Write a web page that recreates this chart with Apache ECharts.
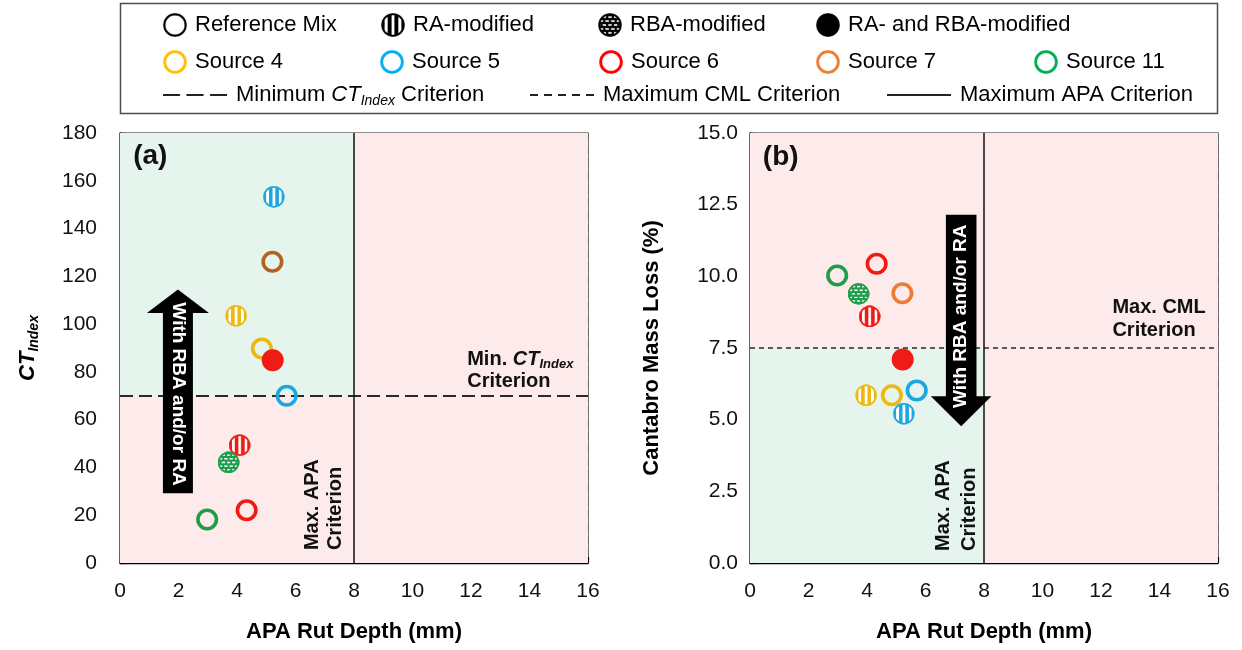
<!DOCTYPE html>
<html>
<head>
<meta charset="utf-8">
<script src="https://cdn.jsdelivr.net/npm/echarts@6/dist/echarts.min.js"></script>
<style>
  html, body { margin: 0; padding: 0; background: #fff; }
  #chart { width: 1242px; height: 650px; }
</style>
</head>
<body>
<div id="chart"></div>
<script>
// ---- data ---------------------------------------------------------------
const sourceNames = ['Source 4', 'Source 5', 'Source 6', 'Source 7', 'Source 11'];
const mixNames = ['Reference Mix', 'RA-modified', 'RBA-modified', 'RA- and RBA-modified'];

// one entry per mixture
const pointSource = ['Source 4', 'Source 4', 'Source 5', 'Source 5', 'Source 6', 'Source 6', 'Source 6', 'Source 7', 'Source 11', 'Source 11'];
const pointMix = ['Reference Mix', 'RA-modified', 'Reference Mix', 'RA-modified', 'Reference Mix', 'RA-modified', 'RA- and RBA-modified', 'Reference Mix', 'Reference Mix', 'RBA-modified'];
const apaRutDepth = [4.85, 3.97, 5.70, 5.26, 4.33, 4.09, 5.22, 5.21, 2.98, 3.71];   // mm
const ctIndex = [89.8, 103.5, 70.0, 153.3, 22.1, 49.3, 84.9, 126.1, 18.2, 42.1];
const cantabroLoss = [5.85, 5.85, 6.02, 5.21, 10.44, 8.60, 7.10, 9.41, 10.03, 9.39]; // %

// performance criteria
const minCtIndex = 70;
const maxCml = 7.5;
const maxApaRut = 8;

// axis ranges
const rutAxis = { min: 0, max: 16, interval: 2 };
const ctAxis = { min: 0, max: 180, interval: 20 };
const cmlAxis = { min: 0, max: 15, interval: 2.5 };

// ---- styling ------------------------------------------------------------
const FONT = '"Liberation Sans", Arial, Helvetica, sans-serif';
const colorsA = { 'Source 4': '#EDB90E', 'Source 5': '#19A8DF', 'Source 6': '#F01B15', 'Source 7': '#B3631F', 'Source 11': '#1E9D4B' };
const colorsB = { 'Source 4': '#EDB90E', 'Source 5': '#19A8DF', 'Source 6': '#F01B15', 'Source 7': '#EC7C35', 'Source 11': '#1E9D4B' };
const legendColors = { 'Source 4': '#FFC000', 'Source 5': '#00B0F0', 'Source 6': '#FF0000', 'Source 7': '#ED7D31', 'Source 11': '#00B050' };
const GREEN_ZONE = '#E5F4EC';
const RED_ZONE = '#FDEBEB';

// Builds a small bitmap marker (ring / striped / dotted / solid disc).
function markerImage(kind, color, size, ring) {
  const k = 3;
  const cv = document.createElement('canvas');
  cv.width = cv.height = size * k;
  const g = cv.getContext('2d');
  g.scale(k, k);
  const r = size / 2;
  const u = size / 22;
  g.beginPath();
  if (kind === 'ring') {
    g.arc(r, r, r - ring / 2 - 0.2, 0, Math.PI * 2);
    g.lineWidth = ring;
    g.strokeStyle = color;
    g.stroke();
  } else {
    g.arc(r, r, r - 0.2, 0, Math.PI * 2);
    g.fillStyle = color;
    g.fill();
    if (kind === 'stripe' || kind === 'dots') {
      g.save();
      g.beginPath();
      g.arc(r, r, r - 2 * u, 0, Math.PI * 2);
      g.clip();
      g.fillStyle = '#fff';
      if (kind === 'stripe') {
        [-6.3, 0, 6.3].forEach(o => g.fillRect(r + (o - 1.35) * u, 0, 2.7 * u, size));
      } else {
        for (let row = -3; row <= 3; row++) {
          const y = r + row * 3.6 * u;
          const shift = (row % 2 === 0) ? 0 : 2.6 * u;
          for (let col = -3; col <= 3; col++) {
            const x = r + col * 5.2 * u + shift;
            g.fillRect(x - 1.6 * u, y - 0.7 * u, 3.2 * u, 1.4 * u);
          }
        }
      }
      g.restore();
    }
  }
  return 'image://' + cv.toDataURL();
}

// Legend swatch for a criterion line.
function lineImage(dash, w, h) {
  const k = 3;
  const cv = document.createElement('canvas');
  cv.width = w * k; cv.height = h * k;
  const g = cv.getContext('2d');
  g.scale(k, k);
  g.strokeStyle = '#222';
  g.lineWidth = 2;
  g.setLineDash(dash);
  g.beginPath();
  g.moveTo(0, h / 2);
  g.lineTo(w, h / 2);
  g.stroke();
  return 'image://' + cv.toDataURL();
}

function markerFor(mix, color) {
  if (mix === 'Reference Mix') {
    return { symbol: 'circle', symbolSize: 18.5, itemStyle: { color: 'rgba(0,0,0,0)', borderColor: color, borderWidth: 3.6, opacity: 1 } };
  }
  if (mix === 'RA-modified') return { symbol: markerImage('stripe', color, 22), symbolSize: 22, itemStyle: { opacity: 1 } };
  if (mix === 'RBA-modified') return { symbol: markerImage('dots', color, 22), symbolSize: 22, itemStyle: { opacity: 1 } };
  return { symbol: 'circle', symbolSize: 22, itemStyle: { color: color, borderWidth: 0, opacity: 1 } };
}

function pointsFor(source, yValues, colors) {
  const out = [];
  for (let i = 0; i < pointSource.length; i++) {
    if (pointSource[i] !== source) continue;
    out.push(Object.assign({ value: [apaRutDepth[i], yValues[i]] }, markerFor(pointMix[i], colors[source])));
  }
  return out;
}

// ---- axes ---------------------------------------------------------------
const tickFont = { fontSize: 21, color: '#111', fontFamily: FONT };
const splitStyle = { show: true, lineStyle: { color: 'rgba(0,0,0,0.14)', width: 1, type: [8, 5] } };
function rutXAxis(gridIndex) {
  return {
    gridIndex, type: 'value', min: rutAxis.min, max: rutAxis.max, interval: rutAxis.interval,
    name: 'APA Rut Depth (mm)', nameLocation: 'middle', nameGap: 58,
    nameTextStyle: { fontSize: 22, fontWeight: 'bold', color: '#000', fontFamily: FONT },
    axisLine: { show: true, onZero: false, lineStyle: { color: '#000', width: 1.3 } },
    axisTick: { show: true, inside: true, length: 6, lineStyle: { color: '#000', width: 1.2 } },
    axisLabel: Object.assign({ margin: 18 }, tickFont),
    splitLine: splitStyle
  };
}

// ---- series -------------------------------------------------------------
const series = [];

// shaded acceptance zones (below the grid lines)
series.push({
  type: 'scatter', xAxisIndex: 0, yAxisIndex: 0, data: [], silent: true, z: -1,
  markArea: {
    silent: true, label: { show: false },
    data: [
      [{ coord: [0, minCtIndex], itemStyle: { color: GREEN_ZONE } }, { coord: [maxApaRut, ctAxis.max] }],
      [{ coord: [0, 0], itemStyle: { color: RED_ZONE } }, { coord: [maxApaRut, minCtIndex] }],
      [{ coord: [maxApaRut, 0], itemStyle: { color: RED_ZONE } }, { coord: [rutAxis.max, ctAxis.max] }]
    ]
  }
});
series.push({
  type: 'scatter', xAxisIndex: 1, yAxisIndex: 1, data: [], silent: true, z: -1,
  markArea: {
    silent: true, label: { show: false },
    data: [
      [{ coord: [0, 0], itemStyle: { color: GREEN_ZONE } }, { coord: [maxApaRut, maxCml] }],
      [{ coord: [0, maxCml], itemStyle: { color: RED_ZONE } }, { coord: [maxApaRut, cmlAxis.max] }],
      [{ coord: [maxApaRut, 0], itemStyle: { color: RED_ZONE } }, { coord: [rutAxis.max, cmlAxis.max] }]
    ]
  }
});

// criterion lines
series.push({
  type: 'scatter', xAxisIndex: 0, yAxisIndex: 0, data: [], silent: true,
  markLine: {
    silent: true, symbol: ['none', 'none'], label: { show: false },
    data: [
      { yAxis: minCtIndex, lineStyle: { color: '#2a2a2a', width: 2, type: [13, 6] } },
      { xAxis: maxApaRut, lineStyle: { color: '#111', width: 1.5, type: 'solid' } }
    ]
  }
});
series.push({
  type: 'scatter', xAxisIndex: 1, yAxisIndex: 1, data: [], silent: true,
  markLine: {
    silent: true, symbol: ['none', 'none'], label: { show: false },
    data: [
      { yAxis: maxCml, lineStyle: { color: '#2a2a2a', width: 1.5, type: [5, 4] } },
      { xAxis: maxApaRut, lineStyle: { color: '#111', width: 1.5, type: 'solid' } }
    ]
  }
});

// legend-only entries for the mixture types and criterion lines
mixNames.forEach(name => series.push({ type: 'scatter', name, xAxisIndex: 0, yAxisIndex: 0, data: [], itemStyle: { opacity: 1 } }));
const criterionNames = ['Minimum CTIndex Criterion', 'Maximum CML Criterion', 'Maximum APA Criterion'];
const criterionDash = [[17, 6.5], [8, 6], []];
criterionNames.forEach(name => series.push({ type: 'line', name, xAxisIndex: 0, yAxisIndex: 0, data: [], symbol: 'none', itemStyle: { opacity: 1 } }));

// measured mixtures
sourceNames.forEach(src => {
  series.push({ type: 'scatter', name: src, xAxisIndex: 0, yAxisIndex: 0, z: 5, itemStyle: { opacity: 1 }, data: pointsFor(src, ctIndex, colorsA), emphasis: { disabled: true } });
  series.push({ type: 'scatter', name: src, xAxisIndex: 1, yAxisIndex: 1, z: 5, itemStyle: { opacity: 1 }, data: pointsFor(src, cantabroLoss, colorsB), emphasis: { disabled: true } });
});

// ---- legend -------------------------------------------------------------
const legendText = { fontSize: 22, color: '#000', fontFamily: FONT };
const subRich = {
  n: { fontSize: 22, color: '#000', fontFamily: FONT, lineHeight: 26 },
  i: { fontSize: 22, color: '#000', fontFamily: FONT, fontStyle: 'italic', lineHeight: 26 },
  s: { fontSize: 14, color: '#000', fontFamily: FONT, fontStyle: 'italic', lineHeight: 8, verticalAlign: 'bottom' }
};
const mixIcons = {
  'Reference Mix': markerImage('ring', '#000', 24, 2.2),
  'RA-modified': markerImage('stripe', '#000', 24),
  'RBA-modified': markerImage('dots', '#000', 24),
  'RA- and RBA-modified': markerImage('solid', '#000', 24)
};
const mixIconX = [175, 393, 610, 828];
const sourceIconX = [175, 392, 611, 828, 1046];
const legends = [];
function markerLegend(name, icon, cx, top) {
  legends.push({
    left: cx - 15, top, padding: 0, itemWidth: 30, itemHeight: 24, selectedMode: false,
    itemStyle: { opacity: 1 },
    textStyle: legendText, data: [{ name, icon }]
  });
}
mixNames.forEach((n, i) => markerLegend(n, mixIcons[n], mixIconX[i], 13));
sourceNames.forEach((n, i) => markerLegend(n, markerImage('ring', legendColors[n], 24, 3), sourceIconX[i], 50));

const criterionLeft = [163, 530, 887];
criterionNames.forEach((name, i) => legends.push({
  left: criterionLeft[i], top: 84, padding: 0, itemWidth: 64, itemHeight: 14, itemGap: 0, selectedMode: false,
  itemStyle: { opacity: 1 },
  textStyle: { fontSize: 22, color: '#000', fontFamily: FONT, rich: subRich, padding: [0, 0, 0, 4] },
  formatter: n => n === 'Minimum CTIndex Criterion'
    ? '{n|Minimum }{i|CT}{s|Index}{n| Criterion}'
    : '{n|' + n + '}',
  data: [{ name, icon: lineImage(criterionDash[i], 64, 14) }]
}));

// ---- option -------------------------------------------------------------
const option = {
  animation: false,
  backgroundColor: '#fff',
  legend: legends,
  grid: [
    { left: 120, top: 133, width: 468, height: 430, show: true, borderColor: '#222', borderWidth: 1.2, backgroundColor: 'rgba(0,0,0,0)' },
    { left: 750, top: 133, width: 468, height: 430, show: true, borderColor: '#222', borderWidth: 1.2, backgroundColor: 'rgba(0,0,0,0)' }
  ],
  xAxis: [rutXAxis(0), rutXAxis(1)],
  yAxis: [
    {
      gridIndex: 0, type: 'value', min: ctAxis.min, max: ctAxis.max, interval: ctAxis.interval,
      name: '{c|CT}{s|Index}', nameLocation: 'middle', nameGap: 79, nameRotate: 90,
      nameTextStyle: {
        rich: {
          c: { fontSize: 22, fontWeight: 'bold', fontStyle: 'italic', color: '#000', fontFamily: FONT, lineHeight: 26 },
          s: { fontSize: 14, fontWeight: 'bold', fontStyle: 'italic', color: '#000', fontFamily: FONT, lineHeight: 8, verticalAlign: 'bottom' }
        }
      },
      axisLine: { show: true, onZero: false, lineStyle: { color: '#000', width: 1.3 } },
      axisTick: { show: true, inside: true, length: 6, lineStyle: { color: '#000', width: 1.2 } },
      axisLabel: Object.assign({ margin: 23 }, tickFont),
      splitLine: splitStyle
    },
    {
      gridIndex: 1, type: 'value', min: cmlAxis.min, max: cmlAxis.max, interval: cmlAxis.interval,
      name: 'Cantabro Mass Loss (%)', nameLocation: 'middle', nameGap: 87, nameRotate: 90,
      nameTextStyle: { fontSize: 22, fontWeight: 'bold', color: '#000', fontFamily: FONT },
      axisLine: { show: true, onZero: false, lineStyle: { color: '#000', width: 1.3 } },
      axisTick: { show: true, inside: true, length: 6, lineStyle: { color: '#000', width: 1.2 } },
      axisLabel: Object.assign({ margin: 12, formatter: v => v.toFixed(1) }, tickFont),
      splitLine: splitStyle
    }
  ],
  series
};

const chart = echarts.init(document.getElementById('chart'), null, { renderer: 'canvas' });
chart.setOption(option);

// ---- annotations (anchored in data space) -------------------------------
const pa = p => chart.convertToPixel({ gridIndex: 0 }, p);
const pb = p => chart.convertToPixel({ gridIndex: 1 }, p);

function upArrow(cx, tipY, baseY, botY, halfBody, halfHead) {
  return [[cx - halfBody, botY], [cx + halfBody, botY], [cx + halfBody, baseY], [cx + halfHead, baseY],
          [cx, tipY], [cx - halfHead, baseY], [cx - halfBody, baseY]];
}

const aTip = pa([1.98, 114.5]), aBase = pa([1.98, 104.7]), aBot = pa([1.98, 29.2]);
const bTop = pb([7.22, 12.15]), bBase = pb([7.22, 5.82]), bTip = pb([7.22, 4.77]);
const aText = pa([1.98, 70.7]), bText = pb([7.22, 8.61]);

const boldNote = 'bold 20px ' + FONT;
const noteRich = {
  n: { font: boldNote, fill: '#111', lineHeight: 22 },
  i: { font: 'italic bold 20px ' + FONT, fill: '#111', lineHeight: 22 },
  s: { font: 'italic bold 13px ' + FONT, fill: '#111', lineHeight: 7, verticalAlign: 'bottom' }
};

const graphics = [
  { type: 'rect', z: 1, silent: true, shape: { x: 120.5, y: 3.5, width: 1097, height: 110 }, style: { fill: '#fff', stroke: '#4d4d4d', lineWidth: 1.5 } },
  { type: 'polygon', z: 10, silent: true, shape: { points: upArrow(aTip[0], aTip[1], aBase[1], aBot[1], 15, 31) }, style: { fill: '#000' } },
  { type: 'polygon', z: 10, silent: true, shape: { points: upArrow(bTip[0], bTip[1], bBase[1], bTop[1], 15.3, 30.3) }, style: { fill: '#000' } },
  { type: 'text', z: 11, silent: true, x: aText[0], y: aText[1], rotation: -Math.PI / 2,
    style: { text: 'With RBA and/or RA', font: 'bold 19px ' + FONT, fill: '#fff', align: 'center', verticalAlign: 'middle' } },
  { type: 'text', z: 11, silent: true, x: bText[0], y: bText[1], rotation: Math.PI / 2,
    style: { text: 'With RBA and/or RA', font: 'bold 19px ' + FONT, fill: '#fff', align: 'center', verticalAlign: 'middle' } }
];

const pA = pa([0.45, 170.4]);
graphics.push({ type: 'text', z: 11, silent: true, x: pA[0], y: pA[1], style: { text: '(a)', font: 'bold 28px ' + FONT, fill: '#111', align: 'left', verticalAlign: 'middle' } });
const pB = pb([0.44, 14.14]);
graphics.push({ type: 'text', z: 11, silent: true, x: pB[0], y: pB[1], style: { text: '(b)', font: 'bold 28px ' + FONT, fill: '#111', align: 'left', verticalAlign: 'middle' } });

const ctNote = pa([11.87, 80.5]);
graphics.push({ type: 'text', z: 11, silent: true, x: ctNote[0], y: ctNote[1],
  style: { text: '{n|Min. }{i|CT}{s|Index}\n{n|Criterion}', rich: noteRich, font: boldNote, fill: '#111', align: 'left', verticalAlign: 'middle' } });

const apaNoteA = pa([6.96, 5.4]);
graphics.push({ type: 'text', z: 11, silent: true, x: apaNoteA[0], y: apaNoteA[1], rotation: Math.PI / 2,
  style: { text: 'Max. APA\nCriterion', font: boldNote, lineHeight: 23, fill: '#111', align: 'left', verticalAlign: 'middle' } });
const apaNoteB = pb([7.05, 0.42]);
graphics.push({ type: 'text', z: 11, silent: true, x: apaNoteB[0], y: apaNoteB[1], rotation: Math.PI / 2,
  style: { text: 'Max. APA\nCriterion', font: boldNote, lineHeight: 26, fill: '#111', align: 'left', verticalAlign: 'middle' } });

const cmlNote = pb([12.39, 8.52]);
graphics.push({ type: 'text', z: 11, silent: true, x: cmlNote[0], y: cmlNote[1],
  style: { text: 'Max. CML\nCriterion', font: boldNote, lineHeight: 23, fill: '#111', align: 'left', verticalAlign: 'middle' } });

chart.setOption({ graphic: graphics });
</script>
</body>
</html>
